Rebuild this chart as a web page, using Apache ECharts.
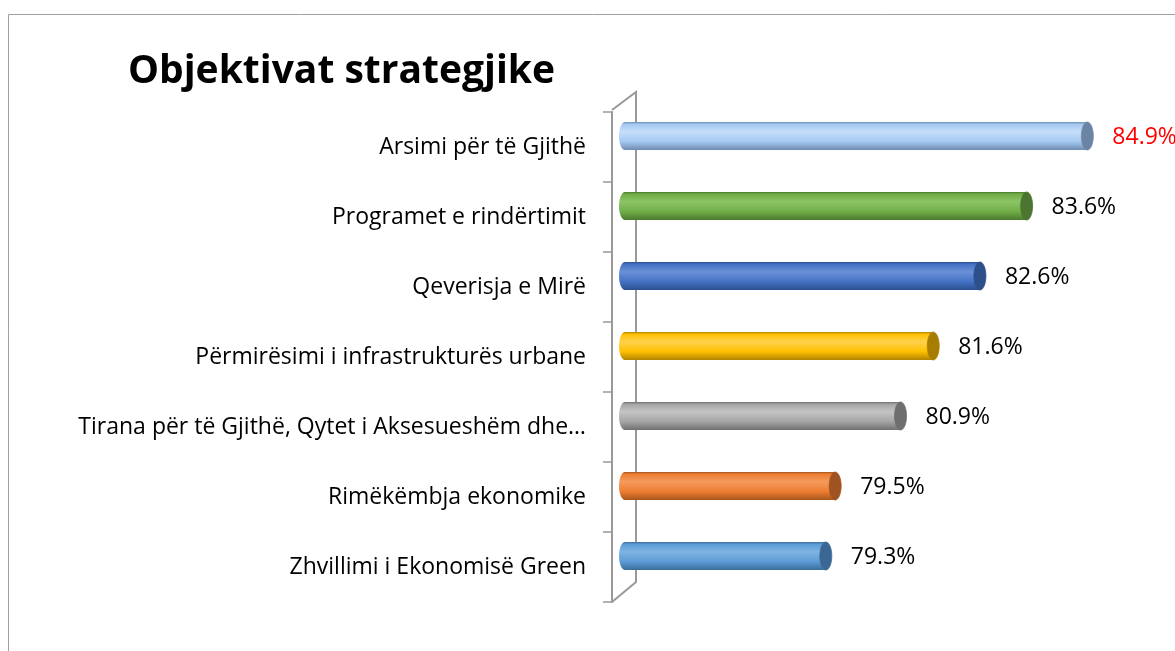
<!DOCTYPE html>
<html>
<head>
<meta charset="utf-8">
<script src="https://cdn.jsdelivr.net/npm/echarts@6/dist/echarts.min.js"></script>
<style>
  html, body { margin: 0; padding: 0; background: #fff; }
  #chart { width: 1175px; height: 651px; }
</style>
</head>
<body>
<div id="chart"></div>
<script>
// categories, top to bottom
const categories = [
  'Arsimi për të Gjithë',
  'Programet e rindërtimit',
  'Qeverisja e Mirë',
  'Përmirësimi i infrastrukturës urbane',
  'Tirana për të Gjithë, Qytet i Aksesueshëm dhe…',
  'Rimëkëmbja ekonomike',
  'Zhvillimi i Ekonomisë Green'
];
const values = [84.9, 83.6, 82.6, 81.6, 80.9, 79.5, 79.3];

// cylinder colours: [top light, mid, bottom dark, end cap]
const barColors = [
  ['#c6defa', '#a4c8f0', '#6f8cb2', '#6c84a4'],
  ['#8cc466', '#70ad47', '#4c7a2e', '#4b7530'],
  ['#6b90d6', '#4472c4', '#2c4f8e', '#2d4f8a'],
  ['#ffd24d', '#ffc000', '#b08400', '#a67d00'],
  ['#c4c4c4', '#a5a5a5', '#707070', '#6e6e6e'],
  ['#f59a5c', '#ed7d31', '#a6561f', '#9e5320'],
  ['#80b4e3', '#5b9bd5', '#3c6d9a', '#3a6793']
];

const chart = echarts.init(document.getElementById('chart'));
const font = '"Open Sans", "Liberation Sans", Arial, sans-serif';

const option = {
  animation: false,
  title: {
    text: 'Objektivat strategjike',
    left: 123,
    top: 47,
    textStyle: { fontFamily: font, fontSize: 39, fontWeight: 'bold', color: '#000' }
  },
  grid: { left: 625, right: 83, top: 112, height: 490 },
  xAxis: {
    type: 'value', min: 75, max: 85, show: false
  },
  yAxis: {
    type: 'category',
    data: categories,
    inverse: true,
    offset: 13,
    axisLine: { show: true, lineStyle: { color: '#999', width: 2 } },
    axisTick: { show: true, length: 9, lineStyle: { color: '#999', width: 1.5 } },
    axisLabel: { color: '#000', fontSize: 23, fontFamily: font, margin: 26 },
    splitLine: { show: false }
  },
  graphic: [
    { type: 'rect', shape: { x: 8.5, y: 14.5, width: 1300, height: 800 }, style: { fill: 'none', stroke: '#a0a0a0', lineWidth: 1 }, z: -10 },
    { type: 'polyline', shape: { points: [[612, 110], [636, 92], [636, 582], [612, 602]] }, style: { fill: 'none', stroke: '#999', lineWidth: 2 } }
  ],
  series: [{
    type: 'custom',
    data: values.map((v, i) => [v, i]),
    encode: { x: 0, y: 1 },
    renderItem: function (params, api) {
      const i = api.value(1);
      const p0 = api.coord([75, i]);
      const p1 = api.coord([api.value(0), i]);
      const c = barColors[i];
      const h = 28, cy = p0[1] - 11, rx = 6;
      const grad = new echarts.graphic.LinearGradient(0, 0, 0, 1, [
        { offset: 0, color: c[2] },
        { offset: 0.08, color: c[1] },
        { offset: 0.35, color: c[0] },
        { offset: 0.7, color: c[1] },
        { offset: 1, color: c[2] }
      ]);
      return {
        type: 'group',
        children: [
          { type: 'ellipse', shape: { cx: p0[0], cy: cy, rx: rx, ry: h / 2 }, style: { fill: grad } },
          { type: 'rect', shape: { x: p0[0], y: cy - h / 2, width: p1[0] - p0[0], height: h }, style: { fill: grad } },
          { type: 'ellipse', shape: { cx: p1[0], cy: cy, rx: rx, ry: h / 2 }, style: { fill: c[3], stroke: c[2], lineWidth: 0.8 } },
          {
            type: 'text',
            style: {
              x: p1[0] + 25, y: cy + 1,
              text: api.value(0).toFixed(1) + '%',
              fill: i === 0 ? '#ff0000' : '#000',
              font: '23px ' + font,
              verticalAlign: 'middle'
            }
          }
        ]
      };
    }
  }]
};
chart.setOption(option);
</script>
</body>
</html>
